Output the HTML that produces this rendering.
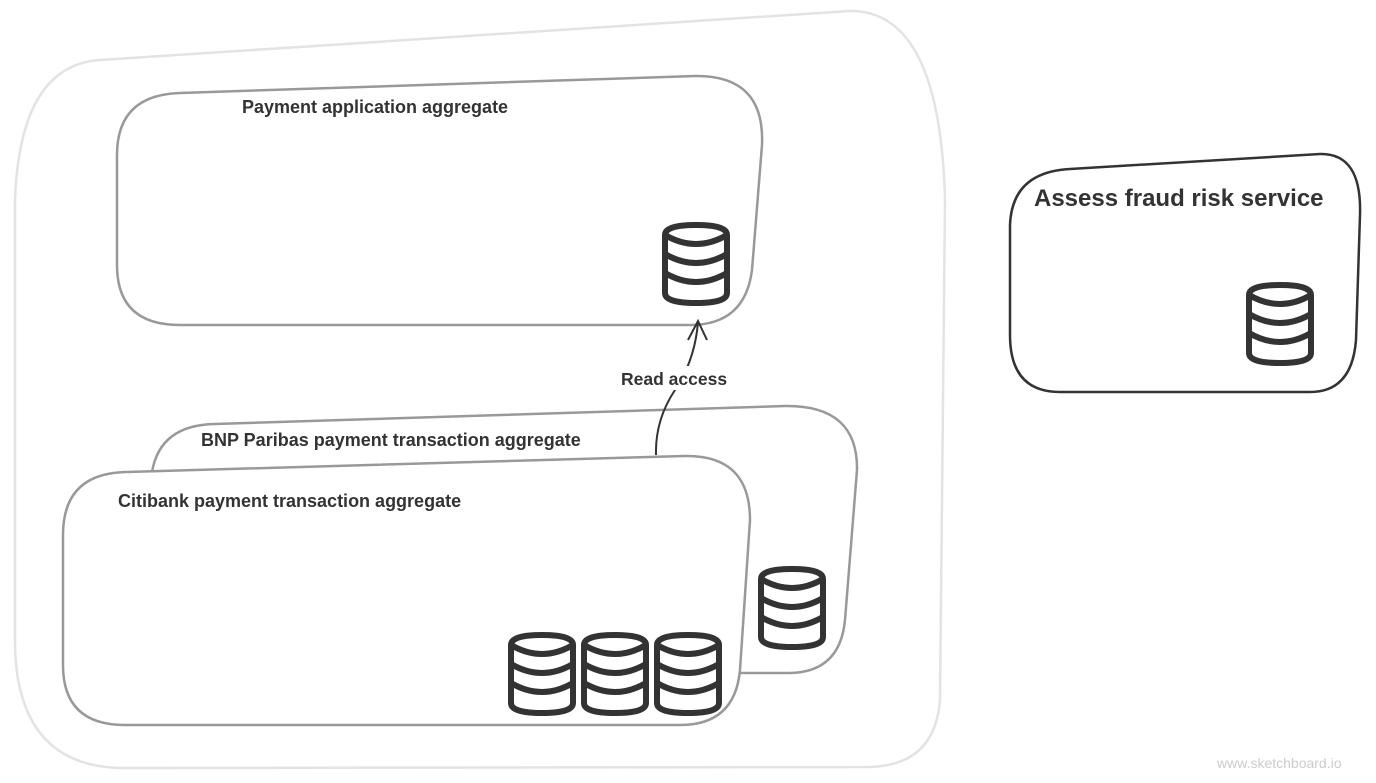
<!DOCTYPE html>
<html><head><style>
html,body{margin:0;padding:0;background:#fff;}
svg{display:block;}
text{font-family:"Liberation Sans",sans-serif;font-weight:bold;fill:#333;}
</style></head><body>
<svg width="1376" height="783" viewBox="0 0 1376 783">
<defs>
<g id="db" fill="none" stroke="#333" stroke-width="6" stroke-linejoin="round">
<path d="M3,13 Q3,3 34,3 Q65,3 65,13 V71 Q65,81 34,81 Q3,81 3,71 Z"/>
<path d="M3,13 Q34,31 65,13"/>
<path d="M3,32 Q34,50 65,32"/>
<path d="M3,51 Q34,69 65,51"/>
</g>
</defs>
<path d="M100,60 L850,11 Q940,10 945,200 L940,700 Q935,765 870,767 L120,768 Q15,765 15,640 L15,200 Q20,65 100,60 Z" fill="none" stroke="#e3e3e3" stroke-width="2.5"/>
<path d="M180,93 L695,76 Q765,75 762,145 L752,270 Q745,325 690,325 L180,325 Q117,325 117,265 L117,155 Q117,95 180,93 Z" fill="#fff" stroke="#999" stroke-width="2.5"/>
<text x="242" y="113" font-size="18">Payment application aggregate</text>
<use href="#db" x="662" y="222"/>
<path d="M152,472 Q160,425 215,424 L785,406 Q858,405 857,470 L845,620 Q840,672 790,673 L740,673" fill="#fff" stroke="#999" stroke-width="2.5"/>
<text x="201" y="446" font-size="18">BNP Paribas payment transaction aggregate</text>
<use href="#db" x="758" y="566"/>
<path d="M125,472 L685,456 Q750,455 750,520 L740,670 Q735,725 680,725 L125,725 Q63,725 63,665 L63,535 Q63,474 125,472 Z" fill="#fff" stroke="#999" stroke-width="2.5"/>
<text x="118" y="507" font-size="18">Citibank payment transaction aggregate</text>
<use href="#db" x="508" y="632"/>
<use href="#db" x="581" y="632"/>
<use href="#db" x="654" y="632"/>
<path d="M656,455 Q655,420 675,390 Q695,360 698,322" fill="none" stroke="#333" stroke-width="2"/>
<path d="M688,340 L698,321 L707,340" fill="none" stroke="#333" stroke-width="2"/>
<rect x="618" y="366" width="116" height="24" fill="#fff"/>
<text x="621" y="385" font-size="17.5">Read access</text>
<path d="M1070,169 L1320,154 Q1362,153 1360,215 L1356,340 Q1352,392 1310,392 L1060,392 Q1010,392 1010,335 L1010,225 Q1012,172 1070,169 Z" fill="#fff" stroke="#333" stroke-width="2.5"/>
<text x="1034" y="206" font-size="24">Assess fraud risk service</text>
<use href="#db" x="1246" y="282"/>
<text x="1217" y="768" font-size="14" style="font-weight:normal;fill:#ccc">www.sketchboard.io</text>
</svg>
</body></html>
